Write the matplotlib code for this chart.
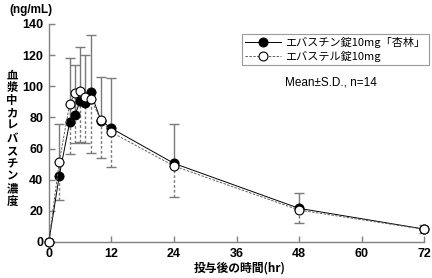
import numpy as np
import matplotlib
matplotlib.use('Agg')
from matplotlib import pyplot as plt

plt.rcParams['font.family'] = ['Noto Sans CJK JP', 'DejaVu Sans']

# sampling times (hr)
hours = [0, 2, 4, 5, 6, 7, 8, 10, 12, 24, 48, 72]
# エバスチン錠10mg「杏林」 (filled)
test_mean = [0, 42.5, 77, 81.5, 90.4, 89.5, 96.3, 78, 73, 50.5, 21.6, 8.3]
test_sd = [0, 33.5, 41, 32.2, 34.6, 30.5, 36.7, 28, 32, 25.5, 10.1, 2.4]
# エバステル錠10mg (open)
ref_mean = [0, 51.5, 88.5, 95.5, 97.2, 93.1, 92, 78.4, 70.5, 48.8, 20.5, 8.1]
ref_sd = [0, 24.5, 31.7, 32, 32.8, 29.3, 34.6, 24.7, 22.5, 20, 8, 2.6]

xticks = [0, 12, 24, 36, 48, 60, 72]
yticks = [0, 20, 40, 60, 80, 100, 120, 140]

t = np.array(hours)
tm = np.array(test_mean)
rm = np.array(ref_mean)
ts = np.array(test_sd)
rs = np.array(ref_sd)

fig = plt.figure(figsize=(4.32, 2.78), dpi=100)
ax = fig.add_axes([0.113, 0.1295, 0.869, 0.7842])

# upper bars (solid) for the test tablet, lower bars (dashed) for the reference
ax.errorbar(t[1:], tm[1:], yerr=[np.zeros(len(t) - 1), ts[1:]], fmt='none',
            ecolor='#7a7a7a', elinewidth=1.0, capsize=3.5, capthick=1.0, zorder=1)
eb = ax.errorbar(t[1:], rm[1:], yerr=[rs[1:], np.zeros(len(t) - 1)], fmt='none',
                 ecolor='#7a7a7a', elinewidth=1.0, capsize=3.5, capthick=1.0, zorder=1)
eb[2][0].set_linestyle((0, (2, 1.5)))

ax.plot(t, tm, '-', color='black', lw=0.7, marker='o', ms=6.4,
        mfc='black', mec='black', mew=0.8, clip_on=False, zorder=3,
        label='エバスチン錠10mg「杏林」')
ax.plot(t, rm, color='#606060', lw=0.7, ls=(0, (2.5, 1.5)), marker='o', ms=6.4,
        mfc='white', mec='black', mew=0.8, clip_on=False, zorder=4,
        label='エバステル錠10mg')

ax.set_xlim(0, 72)
ax.set_ylim(0, 140)
ax.set_xticks(xticks)
ax.set_yticks(yticks)
for s in ['top', 'right']:
    ax.spines[s].set_visible(False)
for s in ['left', 'bottom']:
    ax.spines[s].set_color('#808080')
    ax.spines[s].set_linewidth(1.0)
ax.tick_params(direction='in', length=4, color='#808080', width=1.0, pad=4)
for lab in ax.get_xticklabels() + ax.get_yticklabels():
    lab.set_family(['Liberation Sans', 'DejaVu Sans'])
    lab.set_fontsize(9)
    lab.set_fontweight('bold')

leg = ax.legend(loc='upper left', bbox_to_anchor=(0.515, 0.955), fontsize=8,
                frameon=True, fancybox=False, edgecolor='#808080',
                handlelength=3.2, handletextpad=0.4, borderpad=0.3,
                labelspacing=0.2, borderaxespad=0)
leg.get_frame().set_linewidth(0.8)

fig.text(0.766, 0.705, 'Mean±S.D., n=14', fontsize=8.5, ha='center', va='center',
         family=['Liberation Sans', 'DejaVu Sans'])
fig.text(0.022, 0.965, '(ng/mL)', fontsize=8.5, ha='left', va='center',
         family=['Liberation Sans', 'DejaVu Sans'], fontweight='bold')
fig.text(0.028, 0.503, '\n'.join('血漿中カレバスチン濃度'), fontsize=8.2, ha='center',
         va='center', linespacing=0.97, fontweight='bold')
fig.text(0.555, 0.035, '投与後の時間(hr)', fontsize=8.5, ha='center', va='center',
         fontweight='bold')

fig.savefig('out.png', dpi=100)
